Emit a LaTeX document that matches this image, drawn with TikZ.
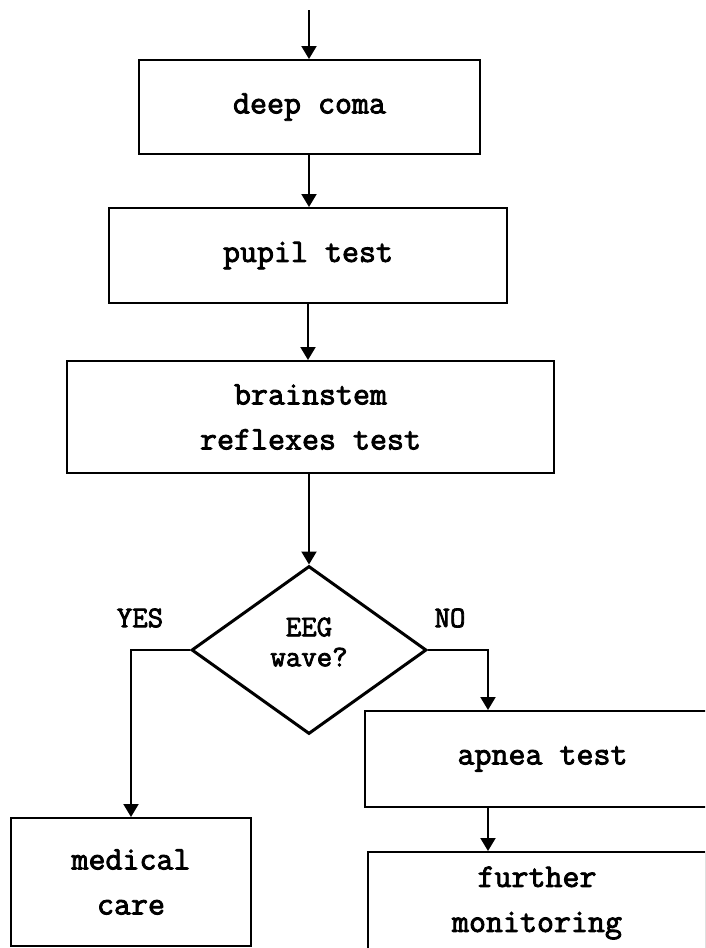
\documentclass[tikz,border=0pt]{standalone}
\usepackage{fontspec}
\newfontfamily\heavytt[FakeBold=2.6]{Latin Modern Mono}
\usetikzlibrary{shapes.geometric,arrows.meta}

\tikzset{
  flowbox/.style={draw, line width=2pt, rectangle, inner sep=0pt, align=center,
    font=\fontsize{33}{45}\selectfont\heavytt},
  decision/.style={draw, line width=3pt, diamond, inner sep=0pt,
    minimum width=235pt, minimum height=168pt},
  answer/.style={font=\fontsize{30}{30}\selectfont\heavytt},
  flow/.style={line width=2pt, -{Triangle[width=15pt,length=13pt]}},
}

\begin{document}
\begin{tikzpicture}[x=1pt, y=-1pt]
  \useasboundingbox (0,0) rectangle (705,948);
  \clip (0,0) rectangle (705,948);
  \fill[white] (0,0) rectangle (705,948);

  % main column
  \coordinate (entry) at (309,10);
  \node[flowbox, minimum width=341pt, minimum height=94pt]  (coma)  at (309.5,107) {deep coma};
  \node[flowbox, minimum width=398pt, minimum height=95pt]  (pupil) at (308,255.5) {pupil test};
  \node[flowbox, minimum width=487pt, minimum height=112pt] (brain) at (310.5,417) {brainstem\\reflexes test};

  % decision
  \node[decision, label={[answer, align=center, yshift=8pt]center:EEG\\wave?}] (eeg) at (309,650) {};
  \node[answer] (yes) at (140,618) {YES};
  \node[answer] (no)  at (450,618) {NO};

  % outcomes
  \node[flowbox, minimum width=240pt, minimum height=128pt] (care)    at (131,882)   {medical\\care};
  \node[flowbox, minimum width=355pt, minimum height=96pt]  (apnea)   at (542.5,759) {apnea test};
  \node[flowbox, minimum width=338pt, minimum height=102pt] (monitor) at (537,903)   {further\\monitoring};

  \coordinate (nobend) at (488,650);

  % connectors
  \draw[flow] (entry) -- (coma.north -| entry);
  \draw[flow] (coma.south -| entry) -- (pupil.north -| entry);
  \draw[flow] (pupil.south) -- (brain.north -| pupil.south);
  \draw[flow] (brain.south -| eeg.north) -- (eeg.north);
  \draw[flow] (eeg.west) -| (care.north);
  \draw[flow] (eeg.east) -- (nobend) -- (nobend |- apnea.north);
  \draw[flow] (apnea.south -| nobend) -- (monitor.north -| nobend);
\end{tikzpicture}
\end{document}
